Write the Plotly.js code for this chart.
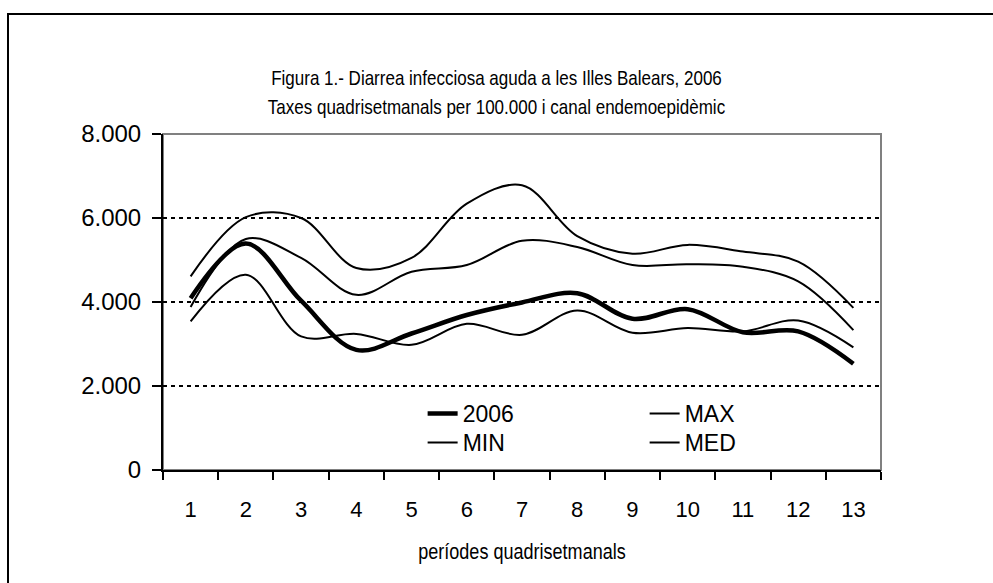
<!DOCTYPE html>
<html>
<head>
<meta charset="utf-8">
<script src="https://cdn.plot.ly/plotly-3.0.1.min.js"></script>
<style>
  html, body { margin: 0; padding: 0; background: #fff; }
  #wrap { position: relative; width: 993px; height: 583px; overflow: hidden; }
  #chart { position: absolute; left: 0; top: 0; width: 993px; height: 583px; }
  #frame { position: absolute; left: 7px; top: 13px; width: 1200px; height: 800px;
           border-left: 2px solid #000; border-top: 2px solid #000; pointer-events: none; }
</style>
</head>
<body>
<div id="wrap">
  <div id="chart"></div>
  <div id="frame"></div>
</div>
<script>
// ---- data ----
const periods = ['1','2','3','4','5','6','7','8','9','10','11','12','13'];
const y2006 = [4090, 5390, 4030, 2860, 3250, 3690, 3990, 4210, 3600, 3830, 3280, 3300, 2530];
const yMax  = [4610, 6020, 6000, 4810, 5050, 6340, 6780, 5570, 5150, 5360, 5200, 4960, 3860];
const yMin  = [3540, 4650, 3180, 3240, 2980, 3480, 3220, 3800, 3270, 3380, 3300, 3560, 2920];
const yMed  = [3880, 5500, 5050, 4170, 4720, 4880, 5460, 5310, 4880, 4900, 4840, 4490, 3330];
const yTicks = [0, 2000, 4000, 6000, 8000];

const FONT = 'Liberation Sans, Arial, sans-serif';
const thin = {color: '#000', width: 2, shape: 'spline', smoothing: 1};

const traces = [
  {x: periods, y: y2006, name: '2006', type: 'scatter', mode: 'lines',
   line: {color: '#000', width: 4.5, shape: 'spline', smoothing: 1}, legend: 'legend'},
  {x: periods, y: yMax, name: 'MAX', type: 'scatter', mode: 'lines', line: thin, legend: 'legend'},
  {x: periods, y: yMin, name: 'MIN', type: 'scatter', mode: 'lines', line: thin, legend: 'legend2'},
  {x: periods, y: yMed, name: 'MED', type: 'scatter', mode: 'lines', line: thin, legend: 'legend2'}
];

const legendCommon = {
  orientation: 'h', xref: 'paper', yref: 'paper', xanchor: 'left', yanchor: 'middle',
  x: 0.3616, entrywidth: 177, entrywidthmode: 'pixels', bgcolor: 'rgba(0,0,0,0)',
  font: {family: FONT, size: 23, color: '#000'}, traceorder: 'normal'
};

const layout = {
  width: 993, height: 583,
  paper_bgcolor: 'rgba(0,0,0,0)', plot_bgcolor: '#fff',
  margin: {l: 163, r: 112, t: 134, b: 112.5, pad: 0},
  separators: ',.',
  font: {family: FONT, size: 18, color: '#000'},
  title: {
    text: '<span style="font-size:21px">Figura 1.- Diarrea infecciosa aguda a les Illes Balears, 2006</span><br>' +
          '<span style="font-size:21px">Taxes quadrisetmanals per 100.000 i canal endemoepidèmic</span>',
    font: {family: FONT, size: 22, color: '#000'},
    xref: 'container', yref: 'container', x: 0.5, xanchor: 'center',
    y: 1 - 85/583, yanchor: 'top'
  },
  xaxis: {
    type: 'category', range: [-0.5, 12.5], showgrid: false, zeroline: false,
    showline: true, linecolor: '#000', linewidth: 2,
    ticks: 'outside', tickson: 'boundaries', ticklen: 8, tickwidth: 2, tickcolor: '#000',
    tickfont: {family: FONT, size: 22, color: '#000'}, ticklabelstandoff: 19,
    title: {text: 'períodes quadrisetmanals', font: {family: FONT, size: 22, color: '#000'}, standoff: 22}
  },
  yaxis: {
    range: [0, 8000], tickvals: yTicks, tickformat: ',d', showgrid: true,
    gridcolor: '#000', gridwidth: 2, griddash: '4px,4px', zeroline: false,
    showline: true, linecolor: '#000', linewidth: 2,
    ticks: 'outside', ticklen: 9, tickwidth: 2, tickcolor: '#000',
    tickfont: {family: FONT, size: 24, color: '#000'}, ticklabelstandoff: 6
  },
  shapes: [{type: 'rect', xref: 'paper', yref: 'paper', x0: 0, x1: 1, y0: 0, y1: 1,
            line: {color: '#808080', width: 2}, layer: 'below'}],
  legend: Object.assign({}, legendCommon, {y: 0.168}),
  legend2: Object.assign({}, legendCommon, {y: 0.0817}),
  showlegend: true
};

// the reference text of the titles is horizontally condensed; narrow it around its centre
function squeeze(gd, selector, k) {
  gd.querySelectorAll(selector).forEach(function (el) {
    const bb = el.getBBox();
    const cx = bb.x + bb.width / 2;
    el.setAttribute('transform', 'matrix(' + k + ',0,0,1,' + (cx * (1 - k)) + ',0)');
  });
}

Plotly.newPlot('chart', traces, layout, {displayModeBar: false, staticPlot: true}).then(function (gd) {
  squeeze(gd, 'text.gtitle', 0.81);
  squeeze(gd, 'text.xtitle', 0.82);
});
</script>
</body>
</html>
